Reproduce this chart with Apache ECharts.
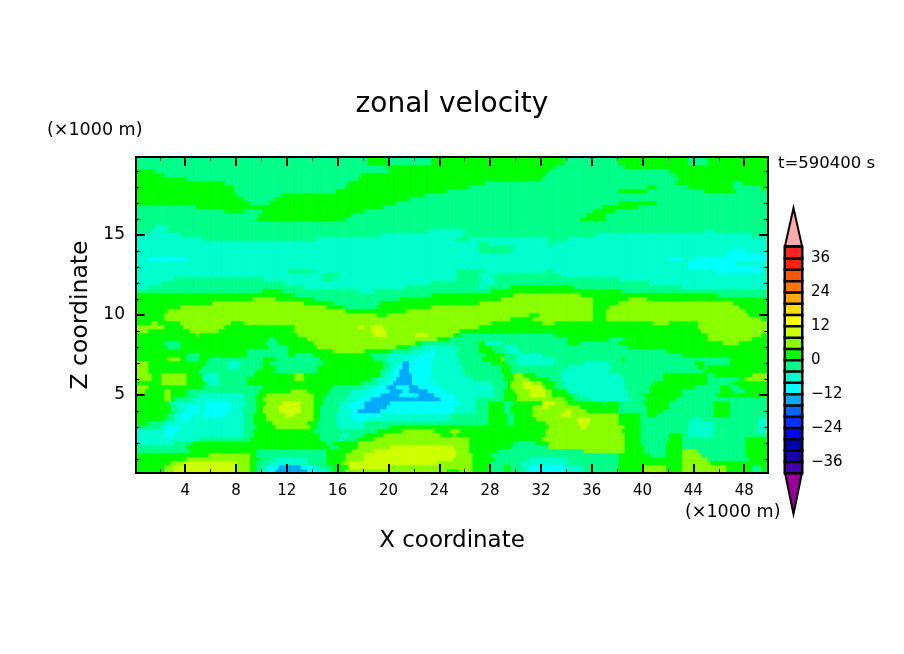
<!DOCTYPE html>
<html><head><meta charset="utf-8">
<style>html,body{margin:0;padding:0;background:#fff}#c{width:904px;height:654px}</style>
<script src="https://cdn.jsdelivr.net/npm/echarts@6/dist/echarts.min.js"></script>
</head><body><div id="c"></div>
<script>
// colour bins, m/s (lower edge of each 4 m/s bin)
const binLower = [-40,-36,-32,-28,-24,-20,-16,-12,-8,-4,0,4,8,12,16,20,24,28,32,36];
const binColors = ['#4400aa','#1a00aa','#0000aa','#0000ff','#0033ff','#0066ff','#00aaff','#00ffff','#00ffcc','#00ff88',
                   '#00ff00','#88ff00','#ccff00','#ffff00','#ffdd00','#ffaa00','#ff7700','#ff5500','#ff2200','#ff2222'];
// letter -> bin mid value
const levelCodes = {B:-14,C:-10,M:-6,S:-2,G:2,L:6,Y:10};
// z (km) of each traced row
const rowZ = [19.5,19.25,19,18.75,18.5,18.25,18,17.75,17.5,17.25,17,16.75,16.5,16.25,16,15.75,15.5,15.25,15,14.75,14.5,14.25,14,13.75,13.5,13.25,13,12.75,12.5,12.25,12,11.75,11.5,11.25,11,10.75,10.5,10.25,10,9.75,9.5,9.25,9,8.75,8.5,8.25,8,7.75,7.5,7.25,7,6.75,6.5,6.25,6,5.75,5.5,5.25,5,4.75,4.5,4.25,4,3.75,3.5,3.25,3,2.75,2.5,2.25,2,1.75,1.5,1.25,1,0.75,0.5,0.25];
// each row: level letter + x (km) where that level ends
const rowSegments = [
"S18.4 G20 S23.3 G33.8 S38.2 G43.7 S45.2 G50",
"S19.9 G33.2 S38.6 G50",
"G1.5 S20.2 G32.7 S42.2 G50",
"G2.3 S17.9 G32.4 S42.7 G50",
"G4.1 S17.5 G32 S42.8 G50",
"G7 S16.8 G27.5 S42.7 G47.2 S47.9 G50",
"G7.8 S16.6 G26.4 S40.3 G41.2 S43.6 G47 S49.4 G50",
"G7.8 S15.9 G24.5 S38 G40.3 S44.8 G47.3 S50",
"G8.2 S11.5 G22.9 S50",
"G8.5 S11 G21.7 S50",
"G9 S10.7 G20.6 S38 G41 S50",
"S4.9 G19.5 S36.8 G39.5 S50",
"S7 G8.6 S10 G18 S36 G37.8 S50",
"S9.8 G17.2 S35.7 G37.2 S50",
"S9.6 G16.5 S35.2 G37.2 S50",
"S50",
"S1.7 M2.6 S50",
"S1.3 M2.7 S23 M26.1 S44.8 M45.6 S50",
"M3.5 S19.3 M25.9 S36.4 M48.5 S50",
"M5.3 S14.4 M25.4 S26.4 M32.5 S34 M50",
"M27 S27.8 M32.5 S33.2 M50",
"M27.1 S29.8 M50",
"M27.1 S29.5 M46.9 C48 M50",
"M46.6 C49.8 M50",
"M1.2 C4 M42 C43 M44 C50",
"M43.6 C47.4 M50",
"M43.5 C49.4 M50",
"M12 S14 M25.4 S27.6 M32.3 S32.9 M45.9 C49.3 M50",
"M14.8 S16.2 M25.4 S27 M28.3 S33.5 M50",
"M3 S10 M14.9 S15.7 M25.4 S27.3 M28.3 S38 M50",
"M2 S11.9 M23.3 S27 M28.3 S40.6 M50",
"M1.2 S13.4 M21.4 S27.1 M27.7 S29.6 G34.6 S43 M50",
"S10 G11.5 S17.5 M18.8 S28 G38.3 S50",
"G12.5 S23.4 G29.9 L35 G45.8 S50",
"G9.4 L11.2 G14.2 S20.8 G28.8 L36.1 G38.8 L40.4 G50",
"G6 L13.3 G15.6 S19.4 G27.2 L36 G38 L47.2 G50",
"G3.5 L15.1 G16.7 S19 G23.3 L36 G37.4 L47.6 G50",
"G2.7 L16.7 G21.4 L36 G37.2 L48.2 G50",
"G2.3 L19 G19.8 L31.2 G31.8 L36.2 G37 L48.4 G50",
"G2.4 L29.6 G31.4 L36 G37.2 L49.4 G50",
"G1.3 L1.9 G3.6 L7.5 G8.6 L28 G32 L33 G40.9 L42.2 G44.3 L50",
"L2.3 G3.8 L7.1 G12.5 L17.5 Y18.1 L18.7 Y19.6 L27.1 G44.3 L50",
"L1.2 G4.4 L6.6 G12.6 L18.7 Y19.9 L25.7 G44.6 L50",
"G4.9 L5.2 G12.9 L18.8 Y19.9 L22.2 Y23 L25 G25.6 S33 G45 L49.3 G50",
"G10.5 S11 G13.6 L23.8 G24.8 S34 G37.4 S38.5 G45.2 L48.7 G50",
"G2.3 S3.5 G10.4 S11.3 G14 L22.1 G22.5 S27 G27.5 M28.8 S34.2 G35 S38.2 G46.3 L47.5 G50",
"G2.5 S3.5 G10.7 S12.2 G14.3 L20.5 G21.5 S22.7 M25.4 S27 G28 S29.2 M30.2 S38.8 G50",
"G8.8 S12.2 G15.7 L18 G20 S21.8 M23.3 C23.6 M25.4 S27.1 G28.3 S29.4 M30.3 S41.9 G50",
"G4 S5.1 G8.8 S12.2 G12.7 S14.2 G18.5 S20 M22.6 C23.5 M25.4 S27.5 G29 S30 M32 S43 G50",
"G2.7 L3.6 G4 S5.2 G5.8 S10 G11 S14.6 G18.8 S19.8 M21.5 C23.4 M25.5 S27.3 G28.8 L29.2 S30 M33.2 S38.3 G38.7 S46.9 G50",
"L1 G5.5 S7.3 M8.3 S10 G10.6 S14.9 G19.5 S20.2 M21.2 B21.6 C23.4 M25.6 S28 G29.3 S30 M33.2 S35.3 M37.4 S44.2 G44.8 S46.9 G50",
"L1 G5.3 S7.4 M8.3 S10 G11 S14.3 G19.5 S20 M20.7 C21 B21.7 C23.3 M25.9 S28.9 G29.5 S34 M37.7 S44.3 G44.8 S45.1 G50",
"L1.2 G5 S9.7 G11.2 S14.4 G19.4 S19.8 M20.4 C20.8 B21.5 C23.3 M25.8 S28.8 G29.6 S33.5 M37.4 S44.8 G50",
"L1.4 G2 L4.1 G5.4 M6.6 S9.4 G12.5 L13.3 G19.3 S19.6 M20.4 C20.9 B21.9 C23.3 M26.1 S29 G29.8 L30.5 G31.5 S33.5 M38.4 S41.6 G45 S45.6 G48.6 L50",
"L1.4 G2 L4.1 G5.3 M6.6 S8.9 G12.5 L13.3 G18.7 S19.2 M20 C20.5 B21.9 C23.2 M26.6 S29 G29.8 L31 G32.5 S33.5 M38.6 S41.6 G45 S47.5 G48 L50",
"G2 L4.1 G5.6 S5.8 M6.6 S8.9 G17.8 S19 M19.9 C20.4 B21.9 C23.7 M28 S29.3 G29.7 L30.6 Y31.4 L32 G33.2 S33.8 M38.6 S40.9 G45 S47 G50",
"L1 G5.4 S10 G15.7 S18 M19 C19.8 B20.7 C21.5 B22.4 C24 M28.3 S29.3 G29.7 L30.7 Y32 L32.3 G33 S33.8 M38.5 S40.6 G44 S46 G46.9 S47.5 G50",
"L.8 G2.3 L2.9 G4.1 S9.8 G12.3 L13.7 G15.4 S17.2 M18.7 C20 B21.2 C21.7 B23 C24.3 M28.4 S29.2 G29.8 L31.2 Y32.4 L32.8 G34 S34.1 M38.8 S40.6 G43.2 S46.1 G47 S48 G50",
"G2.3 L2.9 G4 S5 M8.6 S9.7 G10.4 L14.1 G15 S16.8 M18 C19.3 B20.8 C22.3 B23.5 C25.2 M28.3 S29 G30 L31.2 Y32.4 L32.8 G34.3 S35 M38.9 S40.2 G43 S45.8 G50",
"G2.3 L2.9 G3.2 S4.6 M8.7 S9.6 G10.2 L14.1 G14.9 S16.7 M17.5 C18.6 B24.1 C25.3 M26.8 S29.2 G30 L33.9 G34.5 S35.8 M39 S40.3 G42.7 S50",
"G2.5 S3.2 M5.5 C7.5 M8.9 S9.7 G10.4 L11.5 Y13.2 L14.2 G14.9 S16.2 M17 C18.2 B20 C25.5 M26.8 S27.9 G29.1 S29.8 G32 Y33 L34 G36.8 S37 G38 S40.2 G42.2 S45.5 G46.8 S50",
"G2.9 S3.3 M4 C5 M5.6 C7.6 M8.7 S9.5 G10.2 L11.4 Y13.1 L14.1 G14.6 S16 M16.9 C18.1 B19.9 C25.2 M26.8 S27.9 G29.2 S29.7 G31.3 L32.2 Y32.6 L35 G38 S40.3 G42 S45.6 G46.8 S50",
"G2.9 S3.4 M4.2 C5 M5.5 C7.5 M8.7 S9.5 G10.2 L11.4 Y13.2 L14.2 G14.7 S16.1 M17 C17.6 B19.3 C25.2 M26.8 S27.9 G29.2 S29.7 G31.4 L33.8 Y34.3 L35.7 G38 S40.3 G41.6 S45.5 G46.8 S50",
"G2.5 S3.1 M3.6 C4.5 M5.4 C7 M8.7 S9.4 G10.4 L11.9 Y12.6 L14.1 G14.5 S15.8 M17 C19.3 M24.9 S27.9 G29.3 S29.8 G31.3 L33.5 Y34.3 L38 G39.8 S40.3 G41.2 S45.5 G46.8 S50",
"G2.4 S3 M3.6 C4.4 M8.7 S9.3 G10.3 L14.2 G14.6 S15.8 M17.4 C18.4 M24.9 S27.9 G29.3 S29.8 G31.6 L34.8 Y35.8 L38 G39.8 S43.8 M44.6 S49 M50",
"G1.2 S2.3 M8.7 S9.4 G10.8 L13.7 G14.4 S15.8 M18 S27.9 G29.3 S29.8 G32.3 L34.9 Y35.8 L38.2 G39.8 S43.6 M45.5 S49.1 M50",
"S2.2 M2.7 C3.5 M8.7 S9.6 G11.2 L13.8 G14.3 S16 M18 S20.1 G32.5 L35 Y35.5 L38.5 G39.8 S43.7 M45.7 S49 M50",
"M2.4 C3.3 M8.7 S9.4 G14.2 S19 G21 L23.5 G24.9 L25.6 G32.3 L38.3 G39.8 S43.7 M45.7 S49 M50",
"M2.4 C3 M8.5 S9.3 G14.5 S16.3 M16.9 S18.2 G19.5 L24 G25 L25.4 G32.3 L38.6 G39.8 S42.1 G43.2 S43.7 M45.7 S50",
"M5 S9.1 G14.6 S16 M16.4 S17.7 G18.8 L26.4 G32.2 L38.6 G39.8 S42.2 G43.2 S48 G50",
"M3.2 S4.6 G15 S15.7 G17.7 L26.4 G29.8 S31.7 G32.6 L38.6 G39.8 S41.9 G43 S48 G50",
"S4.2 G15.3 S16 G17.5 L20.2 Y25.1 L26.4 G29.5 S32.7 L38.6 G40.2 S41.9 G43 S48 G50",
"S4.4 G9.6 S15.1 G17.1 L18.9 Y25.4 L26.4 G28.6 S35.3 L38.6 G40 S41.9 G43.1 L44.3 S48 G50",
"G5.9 L9 G9.7 S15.2 G16.6 L18 Y25.4 L26.7 G28 S38.2 G40.6 S41.9 G43.1 L44.6 S48.2 G50",
"G4.1 L9.2 G9.9 S11.1 M13.7 S15.2 G16.7 L18 Y25.1 L26.7 G28.3 S31 M34.2 S38.2 G43 L45 S48.3 G50",
"G2.9 L3.8 Y8 L9 G9.6 S10.7 M13.6 S15.1 G16.4 L16.9 Y23.9 L26.7 G28.1 S30.3 M34 S38.2 G43.1 L45.3 G50",
"G2.3 L3.1 Y8 L9 G9.6 S10.1 M10.7 C11.3 B13 C14 M14.7 S15.5 G16.9 Y20.1 L26.7 G28.1 S29 G29.6 S30.6 M31.2 C33.8 M35.3 S38.2 G40 L41.9 G43.2 L46.6 G48.6 S49.3 G50",
"G2.3 L3 Y8 L9 G9.6 S10 M10.6 C11.2 B13.7 C14.4 M15 S15.5 G16.7 L24.5 G25.7 L26.7 G28.1 S29 G29.5 S30.5 M31 C34.2 M35 S38.2 G40 L41.9 G43.2 L46.6 G48.6 S49.3 G50"
];
const TXT = 'DejaVu Sans';
const xCats = []; for (let i = 1; i <= 199; i++) xCats.push(String(i * 0.25));
const zCats = []; for (let i = 1; i <= 79; i++) zCats.push(String(i * 0.25));
const parsedRows = rowSegments.map(s => s.split(' ').map(t => [levelCodes[t[0]], parseFloat(t.slice(1))]));
function rowForZ(z) {
  let best = 0, bd = 1e9;
  rowZ.forEach((r, i) => { const d = Math.abs(r - z); if (d < bd) { bd = d; best = i; } });
  return parsedRows[best];
}
const fieldData = [];
zCats.forEach((zs, j) => {
  const row = rowForZ(+zs);
  xCats.forEach((xs, i) => {
    const x = +xs; let seg = row.find(s => x <= s[1]) || row[row.length - 1];
    fieldData.push([i, j, seg[0]]);
  });
});
const barData = binLower.map((v, j) => [0, j, v + 2]);
const pieces = binLower.map((v, i) => ({min: v, max: v + 4, color: binColors[i]}));
const black = '#000';
const isMajX = (i, v) => +v % 4 === 0, isMinX = (i, v) => +v % 2 === 0;
const isMajZ = (i, v) => +v % 5 === 0, isMinZ = (i, v) => +v % 1 === 0;
function xa(pos, fn, len, w, labels) {
  return {type:'category', gridIndex:0, position:pos, data:xCats, boundaryGap:true, z:5,
    axisLine:{show:true, lineStyle:{color:black, width:2}},
    axisTick:{show:true, inside:true, alignWithLabel:true, interval:fn, length:len, lineStyle:{color:black, width:w}},
    axisLabel: labels ? {show:true, interval:fn, color:black, fontFamily:TXT, fontSize:15, margin:11} : {show:false},
    splitLine:{show:false},
    name: labels ? 'X coordinate' : '', nameLocation:'middle', nameGap:57,
    nameTextStyle:{color:black, fontFamily:TXT, fontSize:23}};
}
function ya(pos, fn, len, w, labels) {
  return {type:'category', gridIndex:0, position:pos, data:zCats, boundaryGap:true, z:5,
    axisLine:{show:true, lineStyle:{color:black, width:2}},
    axisTick:{show:true, inside:true, alignWithLabel:true, interval:fn, length:len, lineStyle:{color:black, width:w}},
    axisLabel: labels ? {show:true, interval:fn, color:black, fontFamily:TXT, fontSize:17, margin:11, padding:[3,0,0,0]} : {show:false},
    splitLine:{show:false},
    name: labels ? 'Z coordinate' : '', nameLocation:'middle', nameGap:40,
    nameTextStyle:{color:black, fontFamily:TXT, fontSize:23.5}};
}
const option = {
  animation:false, backgroundColor:'#fff',
  title:[
    {text:'zonal velocity', left:452, top:91, padding:0, textAlign:'center', textStyle:{color:black, fontFamily:TXT, fontWeight:'normal', fontSize:28}},
    {text:'(\u00d71000 m)', left:47, top:121, padding:0, textStyle:{color:black, fontFamily:TXT, fontWeight:'normal', fontSize:17.5}},
    {text:'(\u00d71000 m)', left:685, top:503, padding:0, textStyle:{color:black, fontFamily:TXT, fontWeight:'normal', fontSize:17.5}},
    {text:'t=590400 s', left:778, top:155, padding:0, textStyle:{color:black, fontFamily:TXT, fontWeight:'normal', fontSize:16.5}}
  ],
  grid:[
    {left:136, top:157, width:632, height:316},
    {left:785, top:247, width:17, height:226}
  ],
  xAxis:[
    xa('bottom', isMajX, 9, 2, true), xa('top', isMajX, 9, 2, false),
    xa('bottom', isMinX, 4, 1, false), xa('top', isMinX, 4, 1, false),
    {type:'category', gridIndex:1, data:['c'], axisLine:{show:false}, axisTick:{show:false}, axisLabel:{show:false}}
  ],
  yAxis:[
    ya('left', isMajZ, 9, 2, true), ya('right', isMajZ, 9, 2, false),
    ya('left', isMinZ, 4, 1, false), ya('right', isMinZ, 4, 1, false),
    {type:'category', gridIndex:1, data:binLower.map(String), axisLine:{show:false}, axisTick:{show:false}, axisLabel:{show:false}},
    {type:'value', gridIndex:1, position:'right', min:-40, max:40, interval:4, splitLine:{show:false},
     axisLine:{show:false}, axisTick:{show:false},
     axisLabel:{show:true, color:black, fontFamily:TXT, fontSize:15, margin:9, padding:[2,0,0,0],
       formatter:v => (v % 12 === 0 ? String(v).replace('-', '\u2212') : '')}}
  ],
  visualMap:{show:false, type:'piecewise', seriesIndex:[0,1], pieces:pieces, dimension:2},
  series:[
    {type:'heatmap', xAxisIndex:0, yAxisIndex:0, data:fieldData, progressive:0, itemStyle:{borderWidth:0}, emphasis:{disabled:true}},
    {type:'heatmap', xAxisIndex:4, yAxisIndex:4, data:barData, progressive:0, itemStyle:{borderColor:black, borderWidth:2.5}, emphasis:{disabled:true}}
  ],
  graphic:[
    {type:'polygon', shape:{points:[[785,246],[793.5,208],[802,246]]}, style:{fill:'#ffaaaa', stroke:black, lineWidth:2}},
    {type:'polygon', shape:{points:[[785,473],[793.5,514],[802,473]]}, style:{fill:'#990099', stroke:black, lineWidth:2}}
  ]
};
echarts.init(document.getElementById('c'), null, {renderer:'canvas'}).setOption(option);
</script></body></html>
